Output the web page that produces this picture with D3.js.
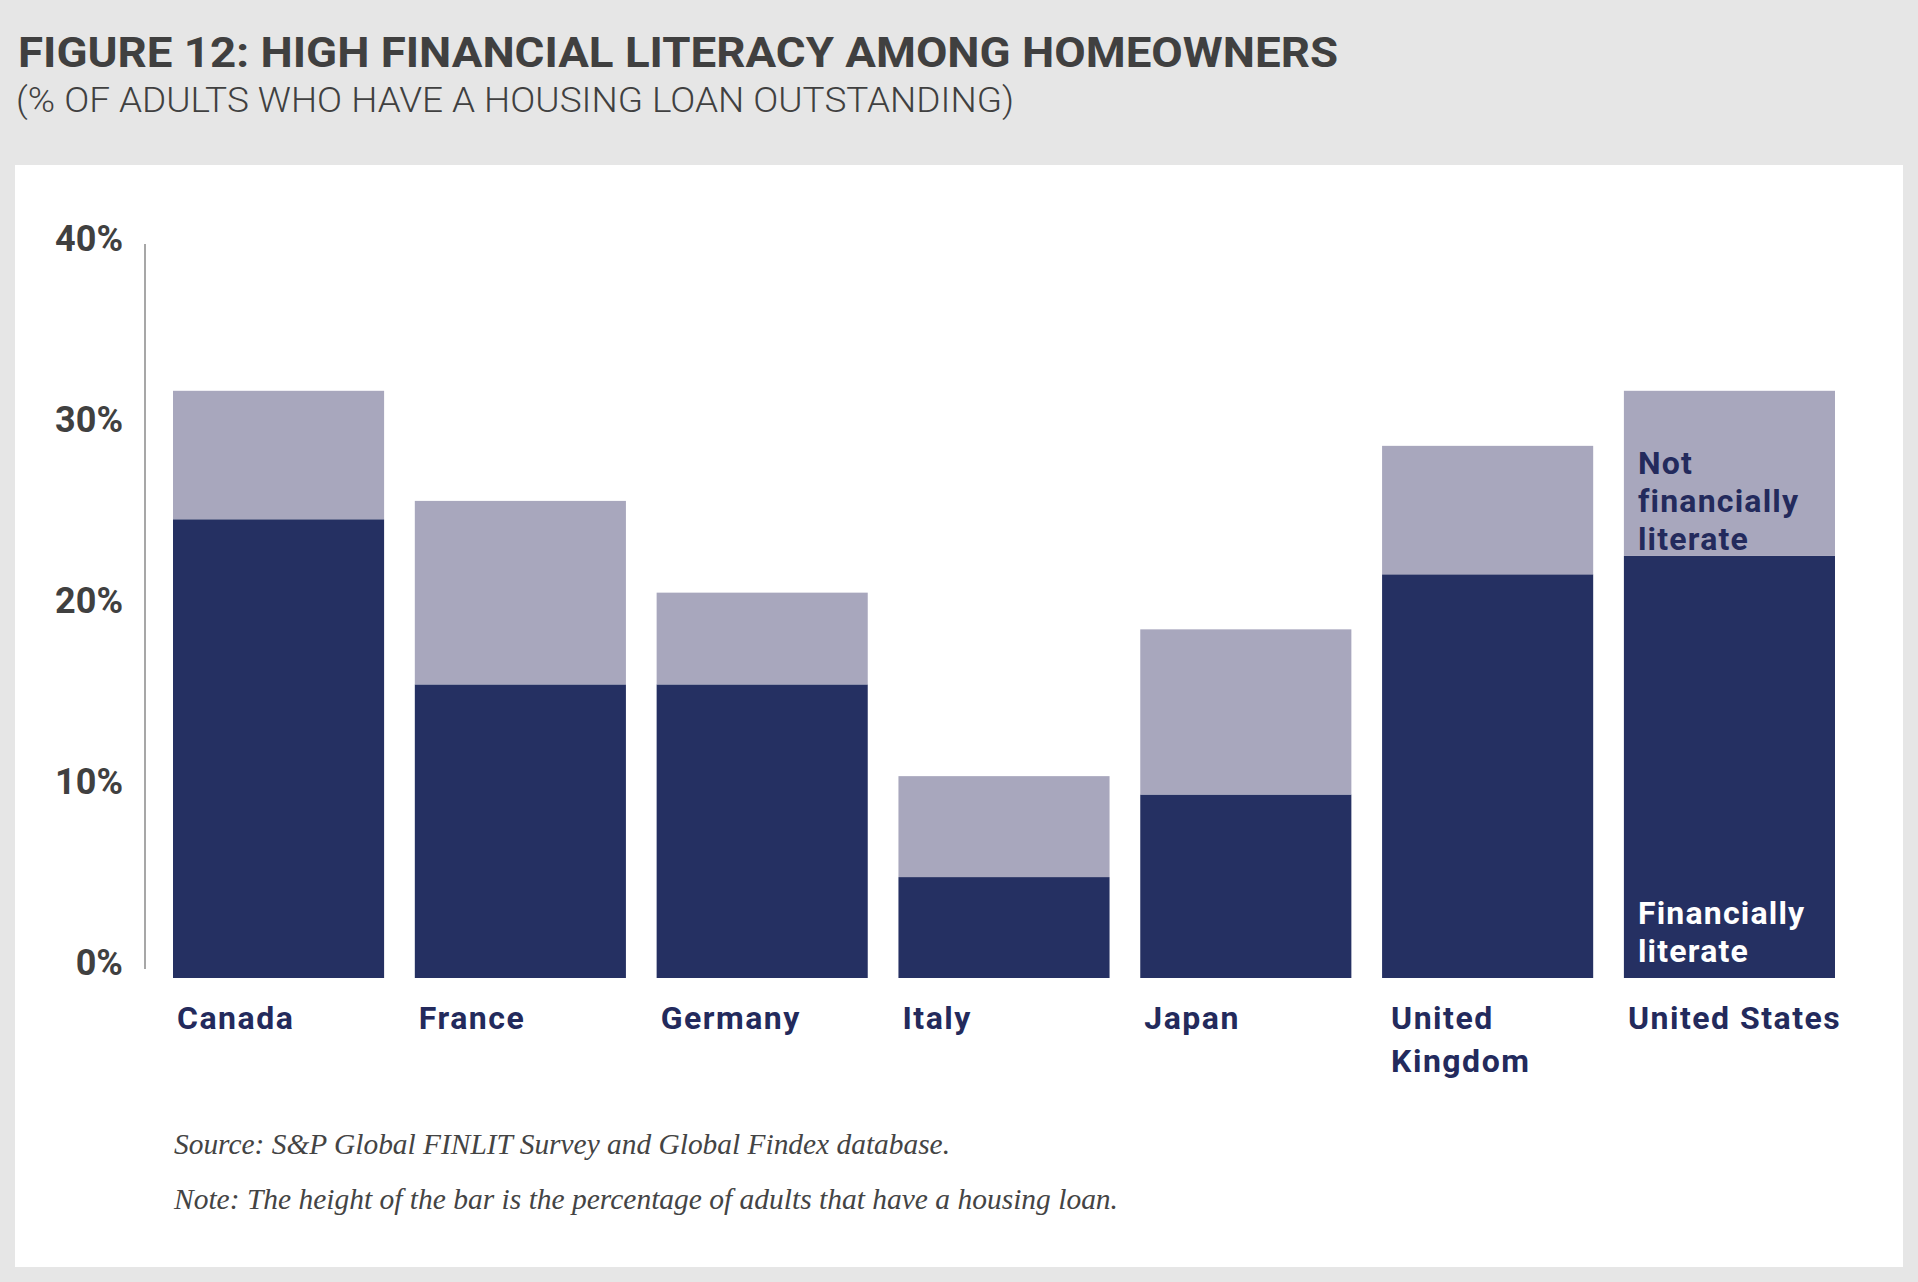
<!DOCTYPE html>
<html>
<head>
<meta charset="utf-8">
<script src="https://cdnjs.cloudflare.com/ajax/libs/d3/7.8.5/d3.min.js"></script>
<style>
    body { margin: 0; background: #e6e6e6; }
    svg { display: block; }
</style>
</head>
<body>
<script>
var width = 1918
var height = 1282

// data (% of adults with a housing loan)
var countries = ["Canada", "France", "Germany", "Italy", "Japan", "United Kingdom", "United States"]
var countryLines = [["Canada"], ["France"], ["Germany"], ["Italy"], ["Japan"], ["United", "Kingdom"], ["United States"]]
var literate = [25, 16, 16, 5.5, 10, 22, 23]
var notLiterate = [7, 10, 5, 5.5, 9, 7, 9]
var tickValues = [0, 10, 20, 30, 40]

var navy = "#253062"
var lilac = "#a8a7bd"
var textNavy = "#232a5c"
var grey = "#404040"

    function makeChart() {
        var svg = d3.select("body").append("svg")
            .attr("width", width)
            .attr("height", height)

        svg.append("rect")
            .attr("width", width).attr("height", height)
            .attr("fill", "#e6e6e6")

        // white panel
        svg.append("rect")
            .attr("x", 15).attr("y", 165)
            .attr("width", 1888).attr("height", 1102)
            .attr("fill", "#ffffff")

        svg.append("text")
            .attr("x", 18).attr("y", 67)
            .attr("textLength", 1320).attr("lengthAdjust", "spacingAndGlyphs")
            .style("font-family", "Roboto, sans-serif")
            .style("font-weight", 700)
            .style("font-size", "42px")
            .style("fill", grey)
            .text("FIGURE 12: HIGH FINANCIAL LITERACY AMONG HOMEOWNERS")

        svg.append("text")
            .attr("x", 16).attr("y", 112)
            .attr("textLength", 998).attr("lengthAdjust", "spacingAndGlyphs")
            .style("font-family", "Roboto, sans-serif")
            .style("font-weight", 300)
            .style("font-size", "35px")
            .style("fill", grey)
            .text("(% OF ADULTS WHO HAVE A HOUSING LOAN OUTSTANDING)")

        var x = d3.scaleBand()
            .domain(countries)
            .range([173, 1835])
            .paddingInner(0.127)
            .paddingOuter(0)

        var y = d3.scaleLinear()
            .domain([0, 40])
            .range([978, 244])

        // tick labels sit on their own slightly tighter spacing in the original
        var yLabel = d3.scaleLinear()
            .domain([0, 40])
            .range([975, 251])

        var rows = countries.map(function(c, i) {
            return { country: c, lit: literate[i], notLit: notLiterate[i] }
        })

        var stack = d3.stack().keys(["lit", "notLit"])(rows)
        var colors = { lit: navy, notLit: lilac }

        svg.append("g").selectAll("g")
            .data(stack)
            .enter().append("g")
            .attr("fill", function(d) { return colors[d.key] })
            .selectAll("rect")
            .data(function(d) { return d })
            .enter().append("rect")
            .attr("x", function(d) { return x(d.data.country) })
            .attr("y", function(d) { return y(d[1]) })
            .attr("width", x.bandwidth())
            .attr("height", function(d) { return y(d[0]) - y(d[1]) })

        // y axis line
        svg.append("line")
            .attr("x1", 145).attr("x2", 145)
            .attr("y1", y(40)).attr("y2", 969)
            .attr("stroke", "#8a8a8a")
            .attr("stroke-width", 1.5)

        svg.append("g").selectAll("text")
            .data(tickValues)
            .enter().append("text")
            .attr("x", 123)
            .attr("y", function(d) { return yLabel(d) })
            .attr("text-anchor", "end")
            .style("font-family", "Roboto, sans-serif")
            .style("font-weight", 700)
            .style("font-size", "36px")
            .style("fill", grey)
            .text(function(d) { return d + "%" })

        // category labels
        var cat = svg.append("g").selectAll("text")
            .data(countryLines)
            .enter().append("text")
            .attr("y", 1029)
            .style("font-family", "Roboto, sans-serif")
            .style("font-weight", 700)
            .style("font-size", "32px")
            .style("letter-spacing", "1.5px")
            .style("fill", textNavy)

        cat.selectAll("tspan")
            .data(function(d, i) { return d.map(function(s) { return { s: s, c: countries[i] } }) })
            .enter().append("tspan")
            .attr("x", function(d) { return x(d.c) + (d.c === "United Kingdom" ? 9 : 4) })
            .attr("dy", function(d, i) { return i === 0 ? 0 : 43 })
            .text(function(d) { return d.s })

        // in-bar labels on the last bar
        var last = countries[countries.length - 1]
        var inBar = [
            { lines: ["Not", "financially", "literate"], y0: 474, fill: textNavy },
            { lines: ["Financially", "literate"], y0: 924, fill: "#ffffff" }
        ]
        inBar.forEach(function(lab) {
            svg.append("text")
                .attr("y", lab.y0)
                .style("font-family", "Roboto, sans-serif")
                .style("font-weight", 700)
                .style("font-size", "32px")
                .style("letter-spacing", "1.2px")
                .style("fill", lab.fill)
                .selectAll("tspan")
                .data(lab.lines)
                .enter().append("tspan")
                .attr("x", x(last) + 14)
                .attr("dy", function(d, i) { return i === 0 ? 0 : 38 })
                .text(function(d) { return d })
        })

        // footnotes
        var notes = [
            { t: "Source: S&P Global FINLIT Survey and Global Findex database.", y: 1154, w: 776 },
            { t: "Note: The height of the bar is the percentage of adults that have a housing loan.", y: 1209, w: 944 }
        ]
        svg.append("g").selectAll("text")
            .data(notes)
            .enter().append("text")
            .attr("x", 174)
            .attr("y", function(d) { return d.y })
            .attr("textLength", function(d) { return d.w })
            .attr("lengthAdjust", "spacingAndGlyphs")
            .style("font-family", "'Liberation Serif', serif")
            .style("font-style", "italic")
            .style("font-size", "29px")
            .style("fill", "#444444")
            .text(function(d) { return d.t })
    }

makeChart()
</script>
</body>
</html>
